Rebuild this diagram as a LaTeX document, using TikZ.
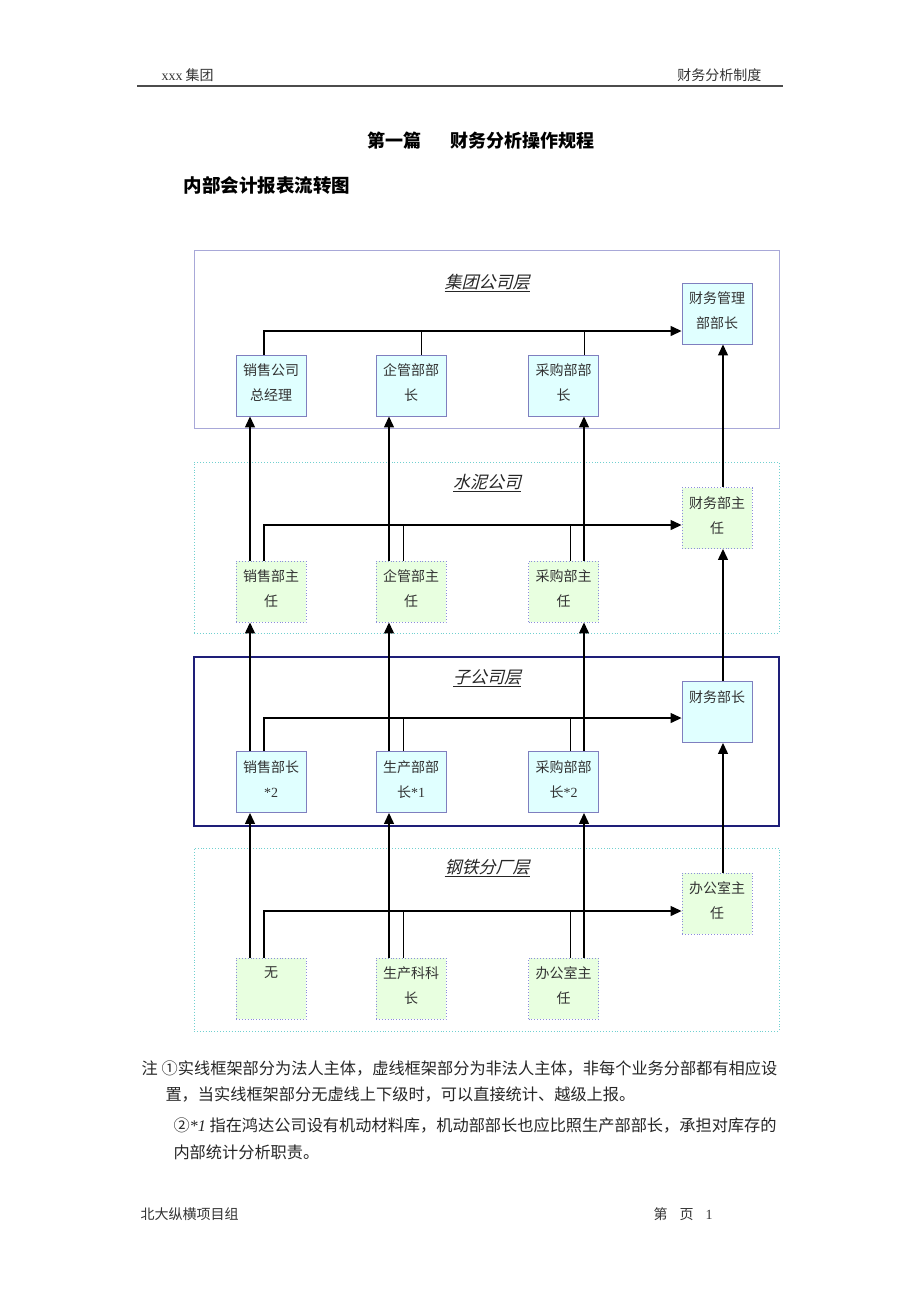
\documentclass[tikz,border=0pt]{standalone}
\usepackage{fontspec}
\setmainfont{Liberation Serif}
\newfontfamily\cjk{Noto Sans CJK SC}
\newfontfamily\cjkslant{Noto Sans CJK SC}[FakeSlant=0.25]
\usetikzlibrary{positioning, arrows.meta}
\definecolor{solidfill}{HTML}{E0FFFF}
\definecolor{solidline}{HTML}{7F7FBF}
\definecolor{dotfill}{HTML}{E8FFE0}
\definecolor{dotline}{HTML}{8C8CDC}
\definecolor{groupline}{HTML}{A8A8D8}
\definecolor{subline}{HTML}{1E1E78}
\definecolor{plantline}{HTML}{70D0D0}

\begin{document}
\begin{tikzpicture}[x=1pt, y=-1pt, font=\cjk]
  \tikzstyle{unit}=[draw=solidline, fill=solidfill, line width=0.9pt, minimum width=70pt, minimum height=61pt, inner sep=0pt]
  \tikzstyle{subunit}=[unit, dotted, draw=dotline, fill=dotfill]
  \tikzstyle{boxtext}=[anchor=north, align=center, inner sep=0pt, yshift=-9pt, font=\cjk\fontsize{14}{25}\selectfont, text=black!80]
  \tikzstyle{layer}=[minimum width=585pt, inner sep=0pt]
  \tikzstyle{layertitle}=[font=\cjkslant\fontsize{17}{17}\selectfont, text=black!85]
  \tikzstyle{up}=[-{Triangle[length=11pt,width=10pt]}, line width=1.3pt]
  \tikzstyle{stub}=[line width=0.8pt]
  \useasboundingbox[fill=white] (0,0) rectangle (920,1302);

  % page head
  \node[anchor=west, font=\cjk\fontsize{14}{14}\selectfont, text=black!80] (head) at (158,75) {{\rmfamily xxx} 集团};
  \node[anchor=east, font=\cjk\fontsize{14}{14}\selectfont, text=black!80] (headr) at (765,75) {财务分析制度};
  \draw[black!70, line width=2pt] (137,86) -- (783,86);
  \node[font=\cjk\bfseries\fontsize{18}{18}\selectfont] (chapter) at (481,141) {第一篇\hspace{29pt}财务分析操作规程};
  \node[anchor=west, font=\cjk\bfseries\fontsize{18.5}{18.5}\selectfont] (fig) at (180,185) {内部会计报表流转图};

  % layers
  \node[layer, draw=groupline, line width=0.9pt, minimum height=178pt] (L1) at (486.5,339) {};
  \node[layer, draw=plantline, dotted, line width=0.9pt, minimum height=171pt] (L2) at (486.5,547.5) {};
  \node[layer, draw=subline, line width=1.2pt, minimum height=169pt] (L3) at (486.5,741.5) {};
  \node[layer, draw=plantline, dotted, line width=0.9pt, minimum height=183pt] (L4) at (486.5,939.5) {};
  \node[layertitle] (T1) at (487,283) {\underline{集团公司层}};
  \node[layertitle] (T2) at (487,483) {\underline{水泥公司}};
  \node[layertitle] (T3) at (487,678) {\underline{子公司层}};
  \node[layertitle] (T4) at (487,868) {\underline{钢铁分厂层}};

  % units
  \node[unit, label={[boxtext]north:{销售公司\\总经理}}] (a1) at (271,385.5) {};
  \node[unit, label={[boxtext]north:{企管部部\\长}}] (b1) at (411,385.5) {};
  \node[unit, label={[boxtext]north:{采购部部\\长}}] (c1) at (563.5,385.5) {};
  \node[unit, label={[boxtext]north:{财务管理\\部部长}}] (f1) at (717,313.5) {};

  \node[subunit, label={[boxtext]north:{销售部主\\任}}] (a2) at (271,591.5) {};
  \node[subunit, label={[boxtext]north:{企管部主\\任}}] (b2) at (411,591.5) {};
  \node[subunit, label={[boxtext]north:{采购部主\\任}}] (c2) at (563.5,591.5) {};
  \node[subunit, label={[boxtext]north:{财务部主\\任}}] (f2) at (717,518) {};

  \node[unit, label={[boxtext]north:{销售部长\\{\rmfamily *2}}}] (a3) at (271,782) {};
  \node[unit, label={[boxtext]north:{生产部部\\长{\rmfamily *1}}}] (b3) at (411,782) {};
  \node[unit, label={[boxtext]north:{采购部部\\长{\rmfamily *2}}}] (c3) at (563.5,782) {};
  \node[unit, label={[boxtext]north:{财务部长}}] (f3) at (717,712) {};

  \node[subunit, label={[boxtext]north:{无}}] (a4) at (271,988.5) {};
  \node[subunit, label={[boxtext]north:{生产科科\\长}}] (b4) at (411,988.5) {};
  \node[subunit, label={[boxtext]north:{办公室主\\任}}] (c4) at (563.5,988.5) {};
  \node[subunit, label={[boxtext]north:{办公室主\\任}}] (f4) at (717,903.5) {};

  % report lines inside each layer
  \coordinate (h1) at ([yshift=-17.5pt]f1.west);
  \coordinate (h2) at ([yshift=-7pt]f2.west);
  \coordinate (h3) at ([yshift=-6pt]f3.west);
  \coordinate (h4) at ([yshift=-7.5pt]f4.west);
  \draw[up] ([xshift=-7pt]a1.north) |- (h1);
  \draw[stub] ([xshift=10.5pt]b1.north) -- ([xshift=10.5pt]b1.north |- h1);
  \draw[stub] ([xshift=20.5pt]c1.north) -- ([xshift=20.5pt]c1.north |- h1);
  \foreach \n in {2,3,4} {
    \draw[up] ([xshift=-7pt]a\n.north) |- (h\n);
    \draw[stub] ([xshift=-8pt]b\n.north) -- ([xshift=-8pt]b\n.north |- h\n);
    \draw[stub] ([xshift=6.5pt]c\n.north) -- ([xshift=6.5pt]c\n.north |- h\n);
  }

  % report lines between layers
  \foreach \lo/\hi in {2/1,3/2,4/3} {
    \draw[up] ([xshift=-21pt]a\lo.north) -- ([xshift=-21pt]a\hi.south);
    \draw[up] ([xshift=-22pt]b\lo.north) -- ([xshift=-22pt]b\hi.south);
    \draw[up] ([xshift=20.5pt]c\lo.north) -- ([xshift=20.5pt]c\hi.south);
    \draw[up] ([xshift=6pt]f\lo.north) -- ([xshift=6pt]f\hi.south);
  }

  % notes
  \node[anchor=west, font=\cjk\fontsize{16.2}{16.2}\selectfont, text=black!85] (note1) at (138,1068) {注\hspace{4pt}①实线框架部分为法人主体，虚线框架部分为非法人主体，非每个业务分部都有相应设};
  \node[anchor=west, font=\cjk\fontsize{16.2}{16.2}\selectfont, text=black!85] (note2) at (162,1094) {置，当实线框架部分无虚线上下级时，可以直接统计、越级上报。};
  \node[anchor=west, font=\cjk\fontsize{16.2}{16.2}\selectfont, text=black!85] (note3) at (170,1125) {②{\rmfamily\itshape *1} 指在鸿达公司设有机动材料库，机动部部长也应比照生产部部长，承担对库存的};
  \node[anchor=west, font=\cjk\fontsize{16.2}{16.2}\selectfont, text=black!85] (note4) at (170,1152) {内部统计分析职责。};

  % page foot
  \node[anchor=west, font=\cjk\fontsize{14}{14}\selectfont, text=black!80] (foot) at (137,1214) {北大纵横项目组};
  \node[anchor=west, font=\cjk\fontsize{14}{14}\selectfont, text=black!80] (page) at (650,1214) {第\hspace{12pt}页\hspace{12pt}{\rmfamily 1}};
\end{tikzpicture}
\end{document}
